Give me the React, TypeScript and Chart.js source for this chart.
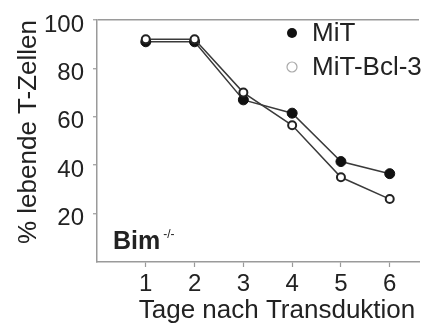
import { useEffect, useRef } from "react";
import { Chart, registerables } from "chart.js";

Chart.register(...registerables);

// Survival of transduced T cells over time
const days = [1, 2, 3, 4, 5, 6];
const mitValues = [91, 91, 67, 61.5, 41.5, 36.5];
const mitBcl3Values = [92, 92, 70, 56.5, 35, 26];
const yTickValues = [20, 40, 60, 80, 100];
const seriesNames = ["MiT", "MiT-Bcl-3"];
const xTitle = "Tage nach Transduktion";
const yTitle = "% lebende T-Zellen";
const panelLabel = "Bim";
const panelSuperscript = "-/-";

const FONT = "'Liberation Sans', Arial, sans-serif";
const TEXT = "#222";
const AXIS = "#9a9a9a";
const LINE = "#3a3a3a";

const annotations = {
  id: "annotations",
  afterDraw(chart: Chart) {
    const ctx = chart.ctx;
    const area = chart.chartArea;
    ctx.save();
    ctx.fillStyle = TEXT;

    // y axis title
    ctx.save();
    ctx.translate(36, 132);
    ctx.rotate(-Math.PI / 2);
    ctx.font = `26px ${FONT}`;
    ctx.textAlign = "center";
    ctx.textBaseline = "alphabetic";
    ctx.fillText(yTitle, 0, 0);
    ctx.restore();

    // x axis title
    ctx.font = `26px ${FONT}`;
    ctx.textAlign = "center";
    ctx.textBaseline = "alphabetic";
    ctx.fillText(xTitle, 277, 318);

    // legend
    const legendX = 292;
    const rows = [33, 67];
    ctx.font = `26px ${FONT}`;
    ctx.textAlign = "left";
    ctx.textBaseline = "middle";
    seriesNames.forEach((name, i) => {
      const y = rows[i];
      ctx.beginPath();
      ctx.arc(legendX, y, 5, 0, Math.PI * 2);
      if (i === 0) {
        ctx.fillStyle = "#111";
        ctx.fill();
      } else {
        ctx.fillStyle = "#fff";
        ctx.fill();
        ctx.strokeStyle = "#aaa";
        ctx.lineWidth = 1.2;
        ctx.stroke();
      }
      ctx.fillStyle = TEXT;
      ctx.fillText(name, 312, y + 1);
    });

    // panel label
    ctx.font = `bold 25px ${FONT}`;
    ctx.textAlign = "left";
    ctx.textBaseline = "alphabetic";
    ctx.fillText(panelLabel, 113, 249);
    const w = ctx.measureText(panelLabel).width;
    ctx.font = `12px ${FONT}`;
    ctx.fillText(panelSuperscript, 113 + w + 3, 238);

    ctx.restore();
  },
};

export default function App() {
  const canvasRef = useRef<HTMLCanvasElement | null>(null);

  useEffect(() => {
    document.body.style.margin = "0";
    const canvas = canvasRef.current;
    if (!canvas) return;

    const chart = new Chart(canvas, {
      type: "line",
      data: {
        datasets: [
          {
            label: seriesNames[0],
            data: days.map((d, i) => ({ x: d, y: mitValues[i] })),
            borderColor: LINE,
            borderWidth: 1.5,
            pointRadius: 5,
            pointBorderWidth: 1,
            pointBackgroundColor: "#111",
            pointBorderColor: "#111",
            tension: 0,
            order: 1,
          },
          {
            label: seriesNames[1],
            data: days.map((d, i) => ({ x: d, y: mitBcl3Values[i] })),
            borderColor: LINE,
            borderWidth: 1.5,
            pointRadius: 4,
            pointBorderWidth: 2,
            pointBackgroundColor: "#fff",
            pointBorderColor: "#222",
            tension: 0,
            order: 0,
          },
        ],
      },
      options: {
        responsive: false,
        animation: false,
        layout: { padding: { top: 20, right: 0, left: 0, bottom: 0 } },
        plugins: {
          legend: { display: false },
          tooltip: { enabled: false },
        },
        scales: {
          x: {
            type: "linear",
            min: 0,
            max: 6.6,
            afterFit(scale: any) {
              scale.height = 62;
              scale.paddingLeft = 0;
              scale.paddingRight = 0;
            },
            afterBuildTicks(scale: any) {
              scale.ticks = days.map((d) => ({ value: d }));
            },
            ticks: {
              color: TEXT,
              font: { family: FONT, size: 24 },
              padding: 3,
              maxRotation: 0,
              callback: (v: any) => String(v),
            },
            grid: {
              drawOnChartArea: false,
              tickLength: 5,
              tickColor: AXIS,
              tickWidth: 1.2,
            },
            border: { color: AXIS, width: 1.5 },
          },
          y: {
            min: 0,
            max: 100,
            afterFit(scale: any) {
              scale.width = 97;
              scale.paddingTop = 0;
              scale.paddingBottom = 0;
            },
            afterBuildTicks(scale: any) {
              scale.ticks = yTickValues.map((v) => ({ value: v }));
            },
            ticks: {
              color: TEXT,
              font: { family: FONT, size: 24 },
              padding: 9,
              labelOffset: 5,
              callback: (v: any) => String(v),
            },
            grid: {
              color: (c: any) => (c.tick && c.tick.value === 100 ? AXIS : "transparent"),
              lineWidth: 1.5,
              tickLength: 4,
              tickColor: AXIS,
              tickWidth: 1.2,
            },
            border: { color: AXIS, width: 1.5 },
          },
        },
      },
      plugins: [annotations],
    });

    return () => chart.destroy();
  }, []);

  return (
    <div style={{ position: "fixed", left: 0, top: 0, width: 425, height: 324, background: "#fff" }}>
      <canvas ref={canvasRef} width={425} height={324} />
    </div>
  );
}
